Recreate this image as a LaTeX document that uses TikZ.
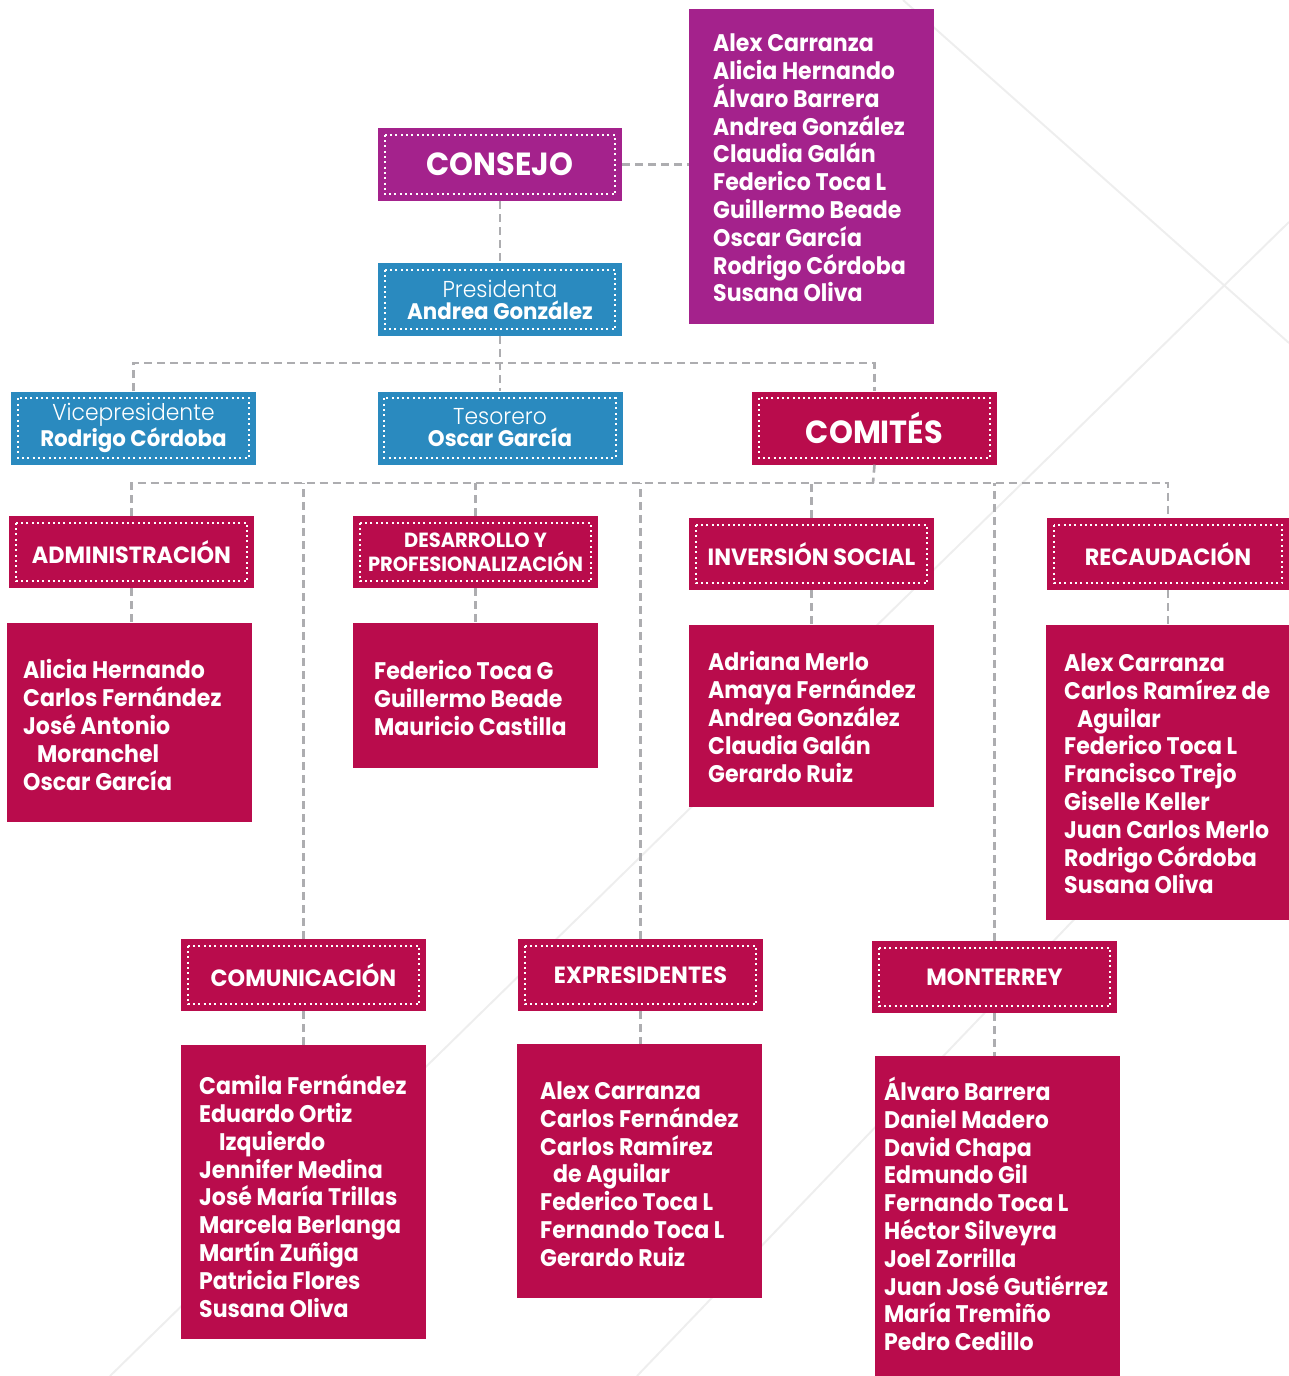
\documentclass[tikz,border=0pt]{standalone}
\usepackage{fontspec}
\setmainfont{Poppins}
\newfontfamily\nf{Poppins}[FakeStretch=0.92]
\newfontfamily\tf{Poppins}[FakeStretch=0.95]
\newfontfamily\lf{Poppins Light}[FakeStretch=0.95]
\usetikzlibrary{calc}
\definecolor{cpur}{HTML}{A4228C}
\definecolor{cblu}{HTML}{2A8ABF}
\definecolor{cred}{HTML}{B90C4C}
\definecolor{cgry}{HTML}{ADADB0}
\definecolor{cfnt}{HTML}{EEEEEE}
\newcommand\dotin[1]{\draw[dots] ($(#1.north west)+(7,7)$) rectangle ($(#1.south east)+(-7,-7)$);}
\newcommand\rolef{\lf\fontsize{23}{22}\selectfont}
\newcommand\namef{\tf\bfseries\fontsize{22.5}{22}\selectfont}
\begin{document}
\begin{tikzpicture}[x=1pt,y=-1pt,
 box/.style={rectangle, inner sep=0pt, minimum width=245, minimum height=73, text=white, align=center},
 pur/.style={box, fill=cpur}, blu/.style={box, fill=cblu, font=\rolef}, red/.style={box, fill=cred},
 memb/.style={rectangle, inner sep=0pt, minimum width=245},
 memt/.style={text=white, align=left, anchor=west, inner sep=0pt, font=\nf\bfseries\fontsize{24}{27.8}\selectfont},
 ttl/.style={font=\tf\bfseries\fontsize{23.5}{24}\selectfont},
 big/.style={font=\tf\bfseries\fontsize{32}{32}\selectfont},
 conn/.style={draw=cgry, line width=2.6pt, dash pattern=on 8pt off 5pt},
 dots/.style={draw=white, line width=2pt, dash pattern=on 2pt off 3.3pt},
 faint/.style={draw=cfnt, line width=2pt}]
\useasboundingbox (0,0) rectangle (1289,1376);
% faint background lines
\draw[faint] (903,0) -- (1289,343);
\draw[faint] (1289,222) -- (110,1376);
\draw[faint] (1289,695) -- (637,1376);

% top level
\node[pur, minimum width=244, big] (consejo) at (500,164.5) {CONSEJO};
\node[memb, fill=cpur, minimum height=315] (consejoM) at (811.5,166.5) {};
\node[memt] (consejoT) at (713,168) {Alex Carranza\\Alicia Hernando\\Álvaro Barrera\\Andrea González\\Claudia Galán\\Federico Toca L\\Guillermo Beade\\Oscar García\\Rodrigo Córdoba\\Susana Oliva};
\node[blu, minimum width=244] (pres) at (500,299.5) {Presidenta\\{\namef Andrea González}};
\node[blu] (vice) at (133.5,428) {Vicepresidente\\{\namef Rodrigo Córdoba}};
\node[blu] (teso) at (500,428) {Tesorero\\{\namef Oscar García}};
\node[red, big] (comites) at (874.5,428) {COMITÉS};

% committees
\node[red, minimum height=72, ttl] (adm) at (131.5,552) {ADMINISTRACIÓN};
\node[red, minimum height=72, font=\tf\bfseries\fontsize{20.5}{24}\selectfont] (des) at (475.5,552) {DESARROLLO Y\\PROFESIONALIZACIÓN};
\node[red, minimum height=72, ttl] (inv) at (811.5,554) {INVERSIÓN SOCIAL};
\node[red, minimum height=72, minimum width=242, ttl] (rec) at (1168,554) {RECAUDACIÓN};
\node[red, minimum height=72, ttl] (com) at (303.5,975) {COMUNICACIÓN};
\node[red, minimum height=72, ttl] (exp) at (640.5,975) {EXPRESIDENTES};
\node[red, minimum height=72, ttl] (mon) at (994.5,977) {MONTERREY};

\foreach \n in {consejo,pres,vice,teso,comites,adm,des,inv,rec,com,exp,mon} {\dotin{\n}}

% member boxes
\node[memb, fill=cred, minimum height=199] (admM) at (129.5,722.5) {};
\node[memt] (admT) at (23,725) {Alicia Hernando\\Carlos Fernández\\José Antonio\\\hspace*{14pt}Moranchel\\Oscar García};
\node[memb, fill=cred, minimum height=145] (desM) at (475.5,695.5) {};
\node[memt] (desT) at (374,698) {Federico Toca G\\Guillermo Beade\\Mauricio Castilla};
\node[memb, fill=cred, minimum height=182] (invM) at (811.5,716) {};
\node[memt] (invT) at (708,717) {Adriana Merlo\\Amaya Fernández\\Andrea González\\Claudia Galán\\Gerardo Ruiz};
\node[memb, fill=cred, minimum width=243, minimum height=295] (recM) at (1167.5,772.5) {};
\node[memt] (recT) at (1064,774) {Alex Carranza\\Carlos Ramírez de\\\hspace*{13pt}Aguilar\\Federico Toca L\\Francisco Trejo\\Giselle Keller\\Juan Carlos Merlo\\Rodrigo Córdoba\\Susana Oliva};
\node[memb, fill=cred, minimum height=294] (comM) at (303.5,1192) {};
\node[memt] (comT) at (199,1196) {Camila Fernández\\Eduardo Ortiz\\\hspace*{20pt}Izquierdo\\Jennifer Medina\\José María Trillas\\Marcela Berlanga\\Martín Zuñiga\\Patricia Flores\\Susana Oliva};
\node[memb, fill=cred, minimum height=254] (expM) at (639.5,1171) {};
\node[memt] (expT) at (540,1174) {Alex Carranza\\Carlos Fernández\\Carlos Ramírez\\\hspace*{13pt}de Aguilar\\Federico Toca L\\Fernando Toca L\\Gerardo Ruiz};
\node[memb, fill=cred, minimum height=320] (monM) at (997.5,1216) {};
\node[memt] (monT) at (884,1214) {Álvaro Barrera\\Daniel Madero\\David Chapa\\Edmundo Gil\\Fernando Toca L\\Héctor Silveyra\\Joel Zorrilla\\Juan José Gutiérrez\\María Tremiño\\Pedro Cedillo};

% connectors
\coordinate (bus1) at (500,363);
\coordinate (bus2) at (873,483);
\draw[conn] (consejo.east) -- (consejoM.west |- consejo.east);
\draw[conn] (consejo.south) -- (pres.north);
\draw[conn] (pres.south) -- (teso.north);
\draw[conn] (vice.north) |- (bus1) -| (comites.north);
\draw[conn] (comites.south) -- (bus2);
\draw[conn] (adm.north) |- (bus2) -| (rec.north);
\foreach \n in {des,inv,com,exp,mon} {\draw[conn] (\n.north) -- (\n.north |- bus2);}
\draw[conn] (adm.south) -- (adm.south |- admM.north);
\draw[conn] (des.south) -- (des.south |- desM.north);
\draw[conn] (inv.south) -- (inv.south |- invM.north);
\draw[conn] (rec.south) -- (rec.south |- recM.north);
\draw[conn] (com.south) -- (com.south |- comM.north);
\draw[conn] (exp.south) -- (exp.south |- expM.north);
\draw[conn] (mon.south) -- (mon.south |- monM.north);
\end{tikzpicture}
\end{document}
